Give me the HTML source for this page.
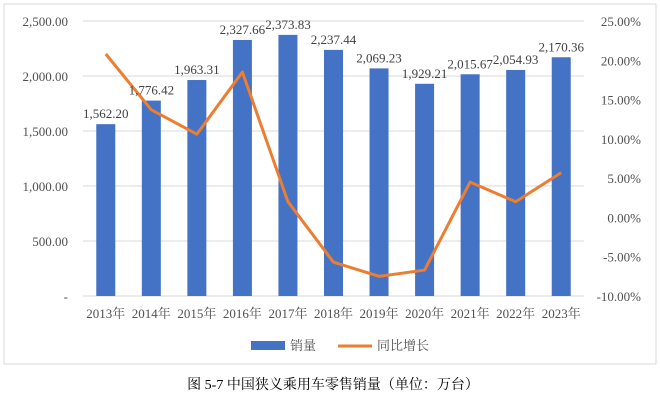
<!DOCTYPE html>
<html><head><meta charset="utf-8"><style>
body{margin:0;background:#fff;width:660px;height:408px;overflow:hidden;font-family:"Liberation Serif","Noto Serif CJK SC",serif}
svg text{font-family:"Liberation Serif","Noto Serif CJK SC",serif;fill:#505050}
</style></head><body>
<svg width="660" height="408">
<rect x="4" y="4" width="652" height="360" fill="#fff" stroke="#d9d9d9"/>
<g id="grid"></g><g id="bars"></g><g id="line"></g><g id="labels"></g><g id="axes"></g>
<g>
<rect x="251" y="341" width="34" height="9" fill="#4472c4"/>
<text x="290" y="350" font-size="13">销量</text>
<line x1="338" y1="346" x2="372" y2="346" stroke="#ed7d31" stroke-width="3"/>
<text x="377" y="350" font-size="13">同比增长</text>
</g>
<text x="333" y="389" text-anchor="middle" font-size="14" style="fill:#000">图 5-7  中国狭义乘用车零售销量（单位：万台）</text>
</svg>
<script>
const categories=["2013年","2014年","2015年","2016年","2017年","2018年","2019年","2020年","2021年","2022年","2023年"];
const sales=[1562.20,1776.42,1963.31,2327.66,2373.83,2237.44,2069.23,1929.21,2015.67,2054.93,2170.36];
const growth=[20.8,13.7,10.6,18.5,2.0,-5.7,-7.5,-6.7,4.5,2.0,5.7];
const leftTicks=[0,500,1000,1500,2000,2500];
const rightTicks=[-10,-5,0,5,10,15,20,25];
const NS="http://www.w3.org/2000/svg";
const X0=83,X1=584,Y0=296,Y1=21;
const step=(X1-X0)/categories.length;
const xc=i=>X0+step*(i+0.5);
const yL=v=>Y0-(v/2500)*(Y0-Y1);
const yR=v=>Y0-((v+10)/35)*(Y0-Y1);
function mk(tag,attrs,parent){const e=document.createElementNS(NS,tag);for(const k in attrs)e.setAttribute(k,attrs[k]);document.getElementById(parent).appendChild(e);return e;}
const fmt=v=>v.toLocaleString("en-US",{minimumFractionDigits:2,maximumFractionDigits:2});
leftTicks.forEach(t=>{
  const l=mk("line",{x1:X0,x2:X1,y1:yL(t),y2:yL(t),stroke:"#d9d9d9"},"grid");
  
  
  const tx=mk("text",{x:68,y:yL(t)+5,"text-anchor":"end","font-size":"13"},"axes");
  tx.textContent=t===0?"-":fmt(t);
  
  
});
rightTicks.forEach(t=>{
  const tx=mk("text",{x:641,y:yR(t)+5,"text-anchor":"end","font-size":"13"},"axes");
  tx.textContent=t.toFixed(2)+"%";
  
  
});
categories.forEach((c,i)=>{
  const tx=mk("text",{x:xc(i),y:318,"text-anchor":"middle","font-size":"13"},"axes");
  tx.textContent=c;
  
  
  const b=mk("rect",{x:xc(i)-9.5,y:yL(sales[i]),width:19,height:Y0-yL(sales[i]),fill:"#4472c4"},"bars");
  
  
  const lb=mk("text",{x:xc(i),y:yL(sales[i])-6,"text-anchor":"middle","font-size":"13","style":"fill:#404040"},"labels");
  lb.textContent=fmt(sales[i]);
  
  
});
const p=mk("polyline",{points:growth.map((g,i)=>xc(i)+","+yR(g)).join(" "),fill:"none",stroke:"#ed7d31","stroke-width":"3","stroke-linejoin":"round"},"line");


</script>
</body></html>
